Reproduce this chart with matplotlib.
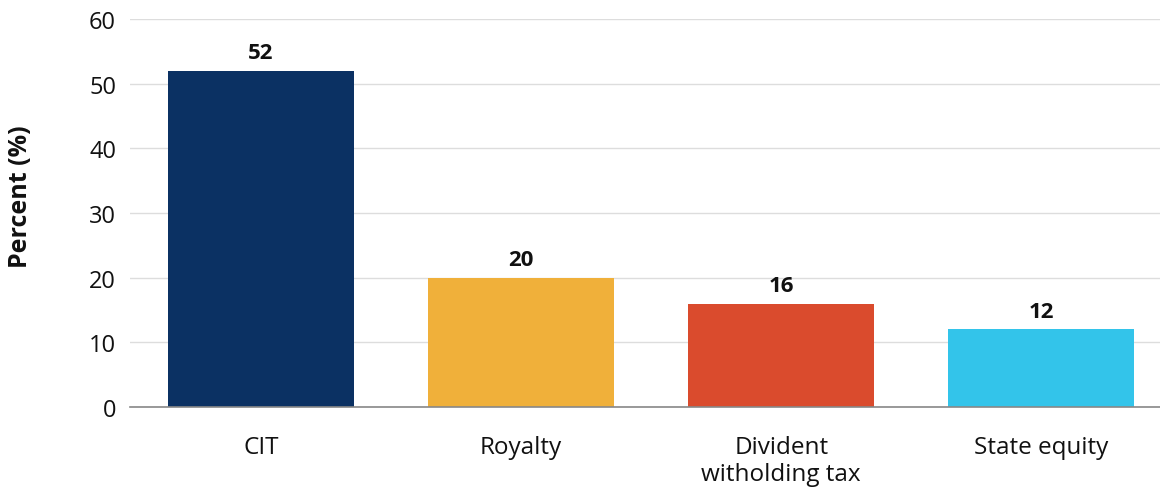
import matplotlib.pyplot as plt

# Data
categories = ["CIT", "Royalty", "Divident\nwitholding tax", "State equity"]
values = [52, 20, 16, 12]
colors = ["#0b3163", "#f0b03a", "#da4b2d", "#33c4ea"]
yticks = [0, 10, 20, 30, 40, 50, 60]

plt.rcParams['font.family'] = ['Open Sans', 'DejaVu Sans']

fig = plt.figure(figsize=(11.6, 4.89), dpi=100)
ax = fig.add_axes([0.112, 0.1656, 0.888, 0.7934])

x = range(len(categories))
bars = ax.bar(x, values, width=0.715, color=colors, zorder=3)

for b, v in zip(bars, values):
    ax.text(b.get_x() + b.get_width() / 2, v + 1.2, str(v),
            ha="center", va="bottom", fontsize=16, fontweight="bold", color="#111111")

ax.set_xlim(-0.504, 3.456)
ax.set_ylim(0, 60)
ax.set_yticks(yticks)
ax.set_xticks(list(x))
ax.set_xticklabels(categories, fontsize=17.5, color="#111111", linespacing=1.2)
ax.tick_params(axis="y", labelsize=17, colors="#111111", length=0, pad=10)
ax.tick_params(axis="x", length=0, pad=20)

ax.grid(axis="y", color="#dddddd", linewidth=1, zorder=0)
for s in ["top", "right", "left"]:
    ax.spines[s].set_visible(False)
ax.spines["bottom"].set_color("#888888")
ax.spines["bottom"].set_linewidth(1.2)
ax.spines["bottom"].set_zorder(4)

ax.set_ylabel("Percent (%)", fontsize=18, fontweight="bold", color="#111111")
ax.yaxis.set_label_coords(-0.094, 0.546)

fig.savefig("out.png", dpi=100)
